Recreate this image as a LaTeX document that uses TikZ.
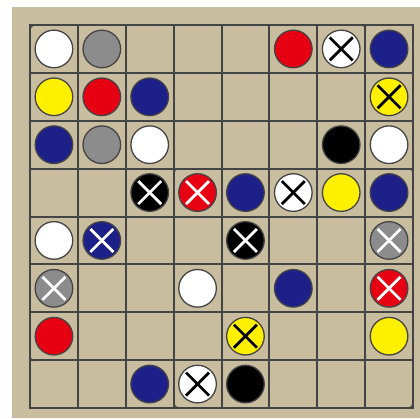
\documentclass[tikz,border=0pt]{standalone}
\usetikzlibrary{calc}
\definecolor{board}{RGB}{201,189,160}
\definecolor{gline}{RGB}{68,68,68}
\definecolor{cornr}{RGB}{85,85,85}
\definecolor{sred}{RGB}{230,0,18}
\definecolor{sblue}{RGB}{29,32,136}
\definecolor{syellow}{RGB}{255,240,0}
\definecolor{sgray}{RGB}{140,140,140}
\definecolor{swhite}{RGB}{255,255,255}
\definecolor{sblack}{RGB}{0,0,0}
\tikzset{
  stone/.style={circle, minimum size=37.6pt, inner sep=0pt, draw=gline, line width=1.3pt, fill=#1},
  crossline/.style={line width=2.8pt, draw=#1},
  gridline/.style={draw=gline, line width=2pt},
}
\newcommand{\cs}{47.875}
\newcommand{\stone}[4]{\node[stone=#4] (#1) at ({30+\cs*(#2+0.5)},{25+\cs*(#3+0.5)}) {};}
\newcommand{\xstone}[5]{\stone{#1}{#2}{#3}{#4}
  \draw[crossline=#5] ($(#1.center)+(-11.5,-11.5)$) -- ($(#1.center)+(11.5,11.5)$);
  \draw[crossline=#5] ($(#1.center)+(-11.5,11.5)$) -- ($(#1.center)+(11.5,-11.5)$);}
\newcommand{\rcorner}[4]{\fill[cornr] (#1,#2) -- ({#1+7*#3},#2) .. controls ({#1+3.1*#3},#2) and (#1,{#2+3.1*#4}) .. (#1,{#2+7*#4}) -- cycle;}
\begin{document}
\begin{tikzpicture}[x=1pt,y=-1pt]
\useasboundingbox (0,0) rectangle (420,418);
\fill[white] (0,0) rectangle (420,418);
\fill[board] (12,7) rectangle (420,418);
% rounded region corners
\rcorner{30}{25}{1}{1}
\rcorner{366}{25}{-1}{1}
\rcorner{30}{361}{1}{-1}
\rcorner{366}{361}{-1}{-1}
\rcorner{174}{168}{1}{1}
\rcorner{413}{168}{-1}{1}
\rcorner{174}{408}{1}{-1}
\rcorner{413}{408}{-1}{-1}
% grid
\foreach \i in {1,...,7} {
  \draw[gridline] ({30+\cs*\i},25) -- ({30+\cs*\i},408);
  \draw[gridline] (30,{25+\cs*\i}) -- (413,{25+\cs*\i});
}
\draw[gridline, line width=2.4pt] (30,25) rectangle (413,408);
% stones row 0
\stone{a0}{0}{0}{swhite}
\stone{b0}{1}{0}{sgray}
\stone{f0}{5}{0}{sred}
\xstone{g0}{6}{0}{swhite}{sblack}
\stone{h0}{7}{0}{sblue}
% row 1
\stone{a1}{0}{1}{syellow}
\stone{b1}{1}{1}{sred}
\stone{c1}{2}{1}{sblue}
\xstone{h1}{7}{1}{syellow}{sblack}
% row 2
\stone{a2}{0}{2}{sblue}
\stone{b2}{1}{2}{sgray}
\stone{c2}{2}{2}{swhite}
\stone{g2}{6}{2}{sblack}
\stone{h2}{7}{2}{swhite}
% row 3
\xstone{c3}{2}{3}{sblack}{white}
\xstone{d3}{3}{3}{sred}{white}
\stone{e3}{4}{3}{sblue}
\xstone{f3}{5}{3}{swhite}{sblack}
\stone{g3}{6}{3}{syellow}
\stone{h3}{7}{3}{sblue}
% row 4
\stone{a4}{0}{4}{swhite}
\xstone{b4}{1}{4}{sblue}{white}
\xstone{e4}{4}{4}{sblack}{white}
\xstone{h4}{7}{4}{sgray}{white}
% row 5
\xstone{a5}{0}{5}{sgray}{white}
\stone{d5}{3}{5}{swhite}
\stone{f5}{5}{5}{sblue}
\xstone{h5}{7}{5}{sred}{white}
% row 6
\stone{a6}{0}{6}{sred}
\xstone{e6}{4}{6}{syellow}{sblack}
\stone{h6}{7}{6}{syellow}
% row 7
\stone{c7}{2}{7}{sblue}
\xstone{d7}{3}{7}{swhite}{sblack}
\stone{e7}{4}{7}{sblack}
\end{tikzpicture}
\end{document}
